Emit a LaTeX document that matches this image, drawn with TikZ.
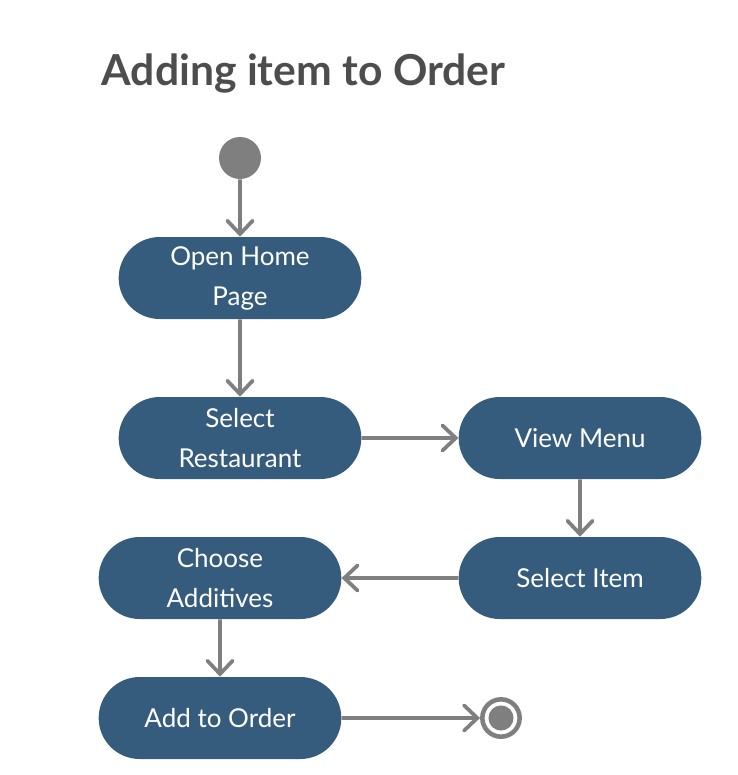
\documentclass[tikz,border=0pt]{standalone}
\usepackage{fontspec}
\setmainfont{Lato}
\usetikzlibrary{arrows.meta, shapes.misc}
\definecolor{actblue}{HTML}{355C7D}
\definecolor{flowgray}{HTML}{7F7F7F}
\definecolor{titlegray}{HTML}{4D4D4D}
\tikzset{
  activity/.style={rounded rectangle, fill=actblue, text=white, align=center,
    minimum width=182pt, minimum height=61.5pt, inner sep=0pt,
    font=\fontsize{19.5}{30}\selectfont},
  flow/.style={draw=flowgray, line width=2.8pt,
    -{Straight Barb[length=10pt, width=19pt, line cap=round]}},
}
\begin{document}
\begin{tikzpicture}[x=0.75pt, y=-0.75pt]
  \useasboundingbox (0,0) rectangle (738,775);
  \node[anchor=base west, text=titlegray, font=\fontsize{32}{40}\bfseries\selectfont]
    (title) at (97,85) {Adding item to Order};
  % start and end
  \node[circle, fill=flowgray, minimum size=31.5pt, inner sep=0pt] (start) at (240,158) {};
  \node[circle, draw=flowgray, line width=3.4pt, fill=white, minimum size=28pt, inner sep=0pt] (stop) at (501,718) {};
  \fill[flowgray] (stop.center) circle (9.4pt);
  % activities
  \node[activity] (home) at (240,278) {Open Home\\Page};
  \node[activity] (restaurant) at (240,438) {Select\\Restaurant};
  \node[activity] (menu) at (580,438) {View Menu};
  \node[activity] (item) at (580,578) {Select Item};
  \node[activity] (additives) at (220,578) {Choose\\Additives};
  \node[activity] (add) at (220,718) {Add to Order};
  % vertical lines
  \draw[flow] (start) -- (home);
  \draw[flow] (home) -- (restaurant);
  \draw[flow] (menu) -- (item);
  \draw[flow] (additives) -- (add);
  % horizontal lines
  \draw[flow] (restaurant) -- (menu);
  \draw[flow] (item) -- (additives);
  \draw[flow] (add) -- (stop);
\end{tikzpicture}
\end{document}
